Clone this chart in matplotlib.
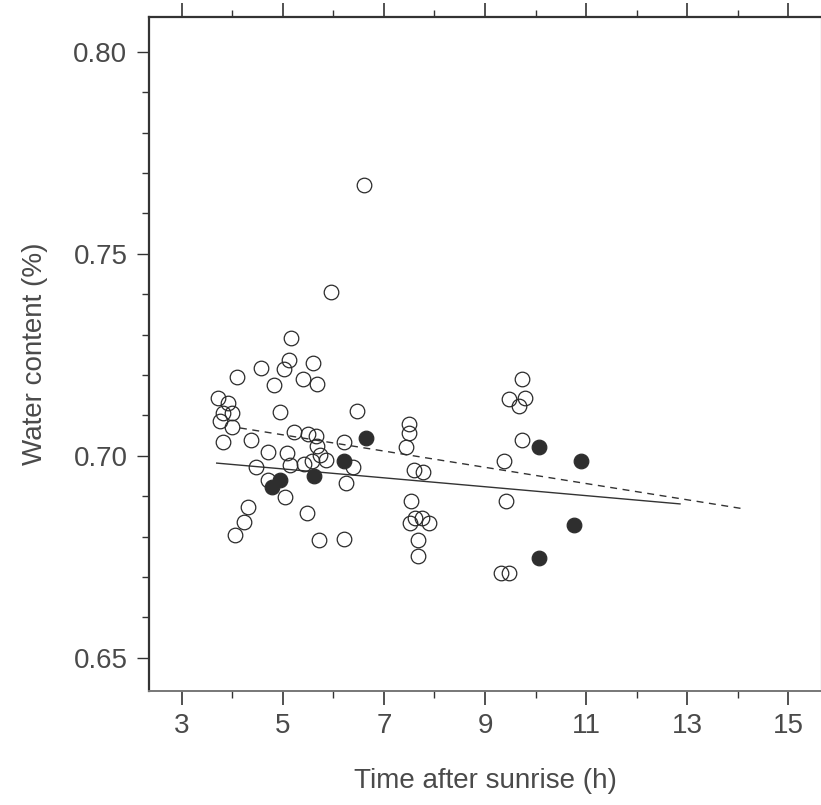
import matplotlib
matplotlib.use("Agg")
import matplotlib.pyplot as plt
from matplotlib.ticker import MultipleLocator

# open symbols: hours after sunrise / water content
open_t = [5.17, 5.12, 5.02, 4.56, 5.60, 4.10, 5.40, 5.68, 4.82, 3.72,
          3.92, 3.81, 4.00, 4.94, 6.46, 3.75, 4.00, 5.22, 5.50, 5.65,
          3.81, 4.37, 6.21, 5.67, 4.71, 5.09, 5.73, 5.85, 5.57, 5.42,
          5.14, 4.47, 6.39, 4.71, 6.25, 5.05, 5.47, 4.30, 4.23, 4.06,
          5.72, 6.21, 5.96, 6.61,
          9.73, 9.48, 9.79, 9.67, 7.50, 7.50, 7.43, 9.73, 9.38, 7.59,
          7.77, 7.53, 9.41, 7.51, 7.62, 7.75, 7.90, 7.68, 7.68, 9.32, 9.48]
open_w = [0.7291, 0.7237, 0.7214, 0.7217, 0.7229, 0.7196, 0.7190, 0.7177, 0.7175, 0.7142,
          0.7130, 0.7107, 0.7105, 0.7109, 0.7111, 0.7085, 0.7072, 0.7060, 0.7054, 0.7048,
          0.7033, 0.7038, 0.7034, 0.7024, 0.7010, 0.7006, 0.7002, 0.6990, 0.6986, 0.6980,
          0.6977, 0.6973, 0.6973, 0.6940, 0.6932, 0.6899, 0.6859, 0.6874, 0.6836, 0.6803,
          0.6792, 0.6794, 0.7405, 0.7670,
          0.7190, 0.7141, 0.7142, 0.7123, 0.7078, 0.7057, 0.7023, 0.7039, 0.6986, 0.6965,
          0.6959, 0.6887, 0.6887, 0.6835, 0.6846, 0.6846, 0.6835, 0.6792, 0.6751, 0.6710, 0.6710]

# filled symbols
filled_t = [6.64, 6.21, 5.62, 4.95, 4.79, 10.07, 10.90, 10.76, 10.07]
filled_w = [0.7045, 0.6987, 0.6951, 0.6940, 0.6924, 0.7023, 0.6988, 0.6829, 0.6747]

# fitted lines (end points)
solid_t = [3.69, 12.86]
solid_w = [0.6982, 0.6881]
dashed_t = [4.15, 14.11]
dashed_w = [0.7069, 0.6869]

xticks = [3, 5, 7, 9, 11, 13, 15]
yticks = [0.65, 0.70, 0.75, 0.80]

txt = "#4a4a4a"
plt.rcParams["font.family"] = ["Liberation Sans", "DejaVu Sans"]

fig = plt.figure(figsize=(8.21, 8.05), dpi=100)
ax = fig.add_axes([149 / 821, (805 - 691) / 805, 672 / 821, 674 / 805])

ax.plot(solid_t, solid_w, "-", color="#333333", lw=1.0)
ax.plot(dashed_t, dashed_w, "--", color="#333333", lw=1.0, dashes=(5, 4))
ax.plot(open_t, open_w, "o", ms=10.5, mfc="none", mec="#2a2a2a", mew=0.9)
ax.plot(filled_t, filled_w, "o", ms=10.5, mfc="#2e2e2e", mec="#2e2e2e", mew=0.9)

ax.set_xlim(2.35, 15.65)
ax.set_ylim(0.6418, 0.8086)
ax.set_xticks(xticks)
ax.set_xticklabels([str(v) for v in xticks])
ax.set_yticks(yticks)
ax.set_yticklabels(["%.2f" % v for v in yticks])
ax.xaxis.set_minor_locator(MultipleLocator(1))
ax.yaxis.set_minor_locator(MultipleLocator(0.01))

ax.tick_params(axis="both", which="both", direction="out", color="#333333",
               labelcolor=txt, labelsize=20)
ax.tick_params(axis="x", which="major", length=10, width=1.2, pad=6, top=True)
ax.tick_params(axis="x", which="minor", length=5, width=1.0, top=True)
ax.tick_params(axis="y", which="major", length=9, width=1.0, pad=6.5)
ax.tick_params(axis="y", which="minor", length=5, width=1.0)

for side in ["left", "top"]:
    ax.spines[side].set_linewidth(1.6)
    ax.spines[side].set_color("#333333")
ax.spines["bottom"].set_linewidth(1.4)
ax.spines["bottom"].set_color("#777777")
ax.spines["right"].set_linewidth(1.0)
ax.spines["right"].set_color("#cccccc")

ax.set_xlabel("Time after sunrise (h)", fontsize=20, color=txt, labelpad=21)
ax.set_ylabel("Water content (%)", fontsize=20, color=txt, labelpad=18)

fig.savefig("out.png", dpi=100)
